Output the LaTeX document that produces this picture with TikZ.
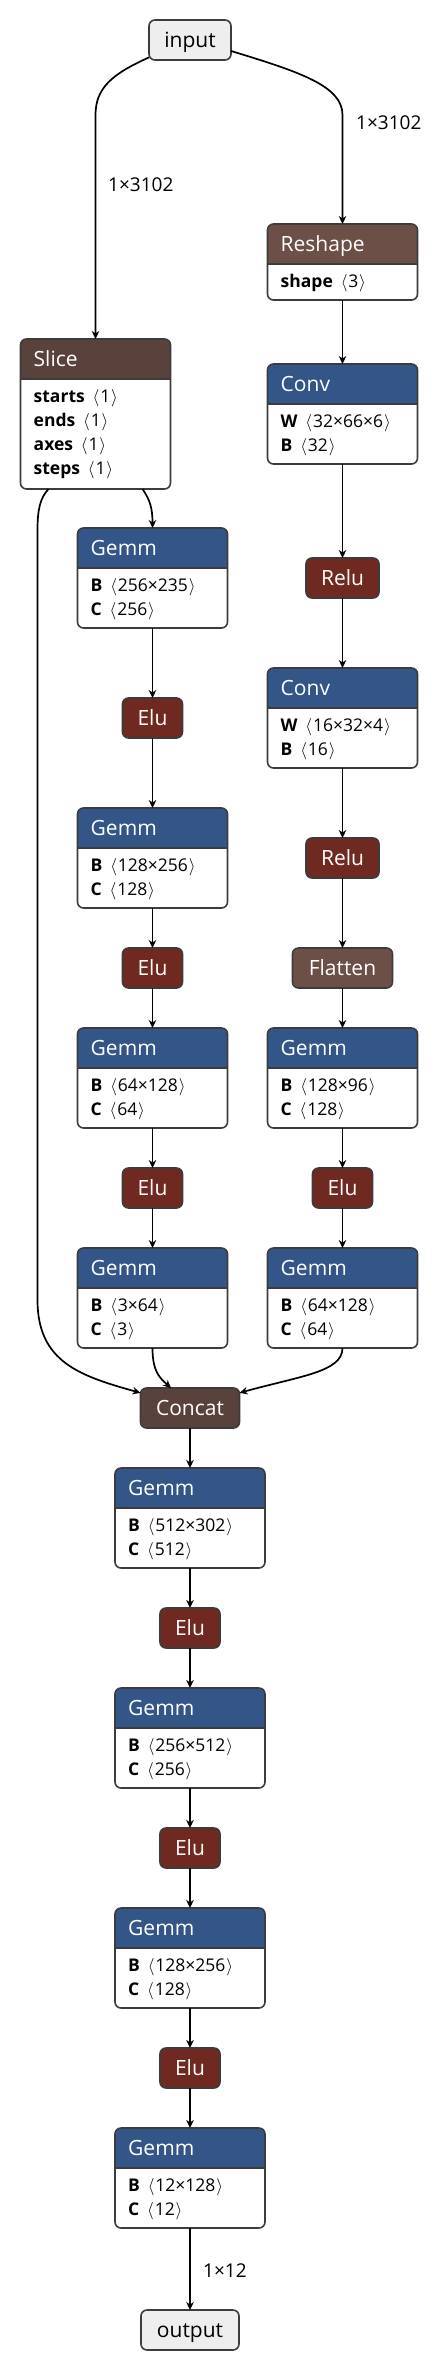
\documentclass[tikz,border=0pt]{standalone}
\usepackage{fontspec}
\setmainfont{Open Sans}
\usetikzlibrary{arrows.meta}
\definecolor{layer}{RGB}{51,85,136}
\definecolor{act}{RGB}{112,41,33}
\definecolor{shp}{RGB}{108,79,71}
\definecolor{tens}{RGB}{89,66,59}
\definecolor{frm}{RGB}{60,60,60}
\definecolor{io}{RGB}{238,238,238}
\newcommand\angL{\hspace{0.45em}\ensuremath{\langle}\hspace{0.05em}}
\newcommand\angR{\hspace{0.05em}\ensuremath{\rangle}}
\tikzset{
  edge/.style={line width=1.7pt, black, -{Stealth[length=8pt,width=7.5pt,inset=2.5pt]}},
  pill/.style={draw=frm, line width=1.6pt, rounded corners=6pt, text=white,
    font=\fontsize{21}{21}\selectfont, inner sep=0pt, outer sep=0pt,
    text height=15pt, text depth=0pt, minimum height=40pt},
  opframe/.style={inner sep=0pt, outer sep=0pt},
  frame/.style={draw=frm, line width=1.6pt},
  titletext/.style={text=white, font=\fontsize{21}{21}\selectfont, inner sep=0pt},
  bodytext/.style={text=black, font=\fontsize{17.5}{17.5}\selectfont, inner sep=0pt},
  elabel/.style={text=black, font=\fontsize{19}{19}\selectfont, inner sep=0pt}
}
% name, x, y, w, h, colour, title, rows
\newcommand\opbox[8]{%
  \node[opframe, minimum width=#4pt, minimum height=#5pt, anchor=north west] (#1) at (#2,#3) {};
  \begin{scope}
    \clip[rounded corners=6pt] (#1.north west) rectangle (#1.south east);
    \fill[white] (#1.north west) rectangle (#1.south east);
    \fill[#6] (#1.north west) rectangle ([yshift=-40pt]#1.north east);
  \end{scope}
  \draw[frame] ([yshift=-40pt]#1.north west) -- ([yshift=-40pt]#1.north east);
  \draw[frame, rounded corners=6pt] (#1.north west) rectangle (#1.south east);
  \node[titletext, anchor=base west] at ([xshift=13pt, yshift=-27.5pt]#1.north west) {#7};
  \foreach \r [count=\i from 0] in {#8} {
    \node[bodytext, anchor=base west] at ([xshift=13pt, yshift={-63.5-24*\i}]#1.north west) {\r};
  }%
}
\begin{document}
\begin{tikzpicture}[x=1pt, y=-1pt]
\useasboundingbox (0,0) rectangle (444,2372);

% input / output and small nodes
\node[pill, fill=io, text=black, minimum width=82pt] (input) at (190,40) {input};
\node[pill, fill=act, minimum width=73pt] (relu1) at (342.5,578) {Relu};
\node[pill, fill=act, minimum width=60pt] (elu1) at (152.5,718) {Elu};
\node[pill, fill=act, minimum width=73pt] (relu2) at (342.5,858) {Relu};
\node[pill, fill=act, minimum width=60pt] (elu2) at (152.5,968) {Elu};
\node[pill, fill=shp, minimum width=100pt] (flatten) at (342.5,968) {Flatten};
\node[pill, fill=act, minimum width=60pt] (elu3) at (152.5,1188) {Elu};
\node[pill, fill=act, minimum width=60pt] (eluR) at (342.5,1188) {Elu};
\node[pill, fill=tens, minimum width=99pt] (concat) at (190,1408) {Concat};
\node[pill, fill=act, minimum width=60pt] (elu5) at (190,1628) {Elu};
\node[pill, fill=act, minimum width=60pt] (elu6) at (190,1848) {Elu};
\node[pill, fill=act, minimum width=60pt] (elu7) at (190,2068) {Elu};
\node[pill, fill=io, text=black, minimum width=98pt] (output) at (190,2330) {output};

% boxes
\opbox{reshape}{267.5}{224}{150}{76}{shp}{Reshape}{{\textbf{shape}\angL3\angR}}
\opbox{slice}{20.5}{339}{150}{150}{tens}{Slice}{{\textbf{starts}\angL1\angR},{\textbf{ends}\angL1\angR},{\textbf{axes}\angL1\angR},{\textbf{steps}\angL1\angR}}
\opbox{conv1}{267.5}{364}{150}{100}{layer}{Conv}{{\textbf{W}\angL32×66×6\angR},{\textbf{B}\angL32\angR}}
\opbox{gemm1}{77.5}{528}{150}{100}{layer}{Gemm}{{\textbf{B}\angL256×235\angR},{\textbf{C}\angL256\angR}}
\opbox{conv2}{267.5}{668}{150}{100}{layer}{Conv}{{\textbf{W}\angL16×32×4\angR},{\textbf{B}\angL16\angR}}
\opbox{gemm2}{77.5}{808}{150}{100}{layer}{Gemm}{{\textbf{B}\angL128×256\angR},{\textbf{C}\angL128\angR}}
\opbox{gemm3}{77.5}{1028}{150}{100}{layer}{Gemm}{{\textbf{B}\angL64×128\angR},{\textbf{C}\angL64\angR}}
\opbox{gemmR1}{267.5}{1028}{150}{100}{layer}{Gemm}{{\textbf{B}\angL128×96\angR},{\textbf{C}\angL128\angR}}
\opbox{gemm4}{77.5}{1248}{150}{100}{layer}{Gemm}{{\textbf{B}\angL3×64\angR},{\textbf{C}\angL3\angR}}
\opbox{gemmR2}{267.5}{1248}{150}{100}{layer}{Gemm}{{\textbf{B}\angL64×128\angR},{\textbf{C}\angL64\angR}}
\opbox{gemm5}{115}{1468}{150}{100}{layer}{Gemm}{{\textbf{B}\angL512×302\angR},{\textbf{C}\angL512\angR}}
\opbox{gemm6}{115}{1688}{150}{100}{layer}{Gemm}{{\textbf{B}\angL256×512\angR},{\textbf{C}\angL256\angR}}
\opbox{gemm7}{115}{1908}{150}{100}{layer}{Gemm}{{\textbf{B}\angL128×256\angR},{\textbf{C}\angL128\angR}}
\opbox{gemm8}{115}{2128}{150}{100}{layer}{Gemm}{{\textbf{B}\angL12×128\angR},{\textbf{C}\angL12\angR}}

% edges
\draw[edge] (input.203) .. controls (112,74) and (95.5,88) .. (95.5,115) -- (slice.north);
\draw[edge] (input.-15) .. controls (300,72) and (342.5,86) .. (342.5,115) -- (reshape.north);
\node[elabel, anchor=west] (lblL) at (108,185) {1×3102};
\node[elabel, anchor=west] (lblR) at (356,123) {1×3102};

\draw[edge] (reshape.south) -- (conv1.north);
\draw[edge] (conv1.south) -- (relu1.north);
\draw[edge] (relu1.south) -- (conv2.north);
\draw[edge] (conv2.south) -- (relu2.north);
\draw[edge] (relu2.south) -- (flatten.north);
\draw[edge] (flatten.south) -- (gemmR1.north);
\draw[edge] (gemmR1.south) -- (eluR.north);
\draw[edge] (eluR.south) -- (gemmR2.north);

\draw[edge] ([xshift=47pt]slice.south) .. controls (150,500) and (152.5,508) .. (gemm1.north);
\draw[edge] (gemm1.south) -- (elu1.north);
\draw[edge] (elu1.south) -- (gemm2.north);
\draw[edge] (gemm2.south) -- (elu2.north);
\draw[edge] (elu2.south) -- (gemm3.north);
\draw[edge] (gemm3.south) -- (elu3.north);
\draw[edge] (elu3.south) -- (gemm4.north);

\draw[edge] ([xshift=-47pt]slice.south) .. controls (40,498) and (37.5,510) .. (37.5,530) -- (37.5,1300) .. controls (37.5,1362) and (80,1376) .. (concat.163);
\draw[edge] (gemm4.south) .. controls (152.5,1372) and (160,1378) .. ([xshift=-19pt]concat.north);
\draw[edge] (gemmR2.south) .. controls (342.5,1372) and (300,1376) .. (concat.17);

\draw[edge] (concat.south) -- (gemm5.north);
\draw[edge] (gemm5.south) -- (elu5.north);
\draw[edge] (elu5.south) -- (gemm6.north);
\draw[edge] (gemm6.south) -- (elu6.north);
\draw[edge] (elu6.south) -- (gemm7.north);
\draw[edge] (gemm7.south) -- (elu7.north);
\draw[edge] (elu7.south) -- (gemm8.north);
\draw[edge] (gemm8.south) -- (output.north);
\node[elabel, anchor=west] (lblO) at (203,2271) {1×12};
\end{tikzpicture}
\end{document}
